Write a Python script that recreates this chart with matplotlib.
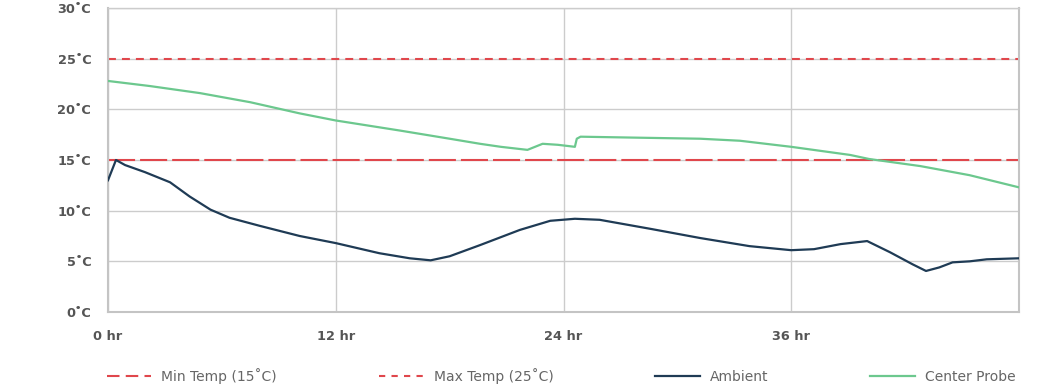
import matplotlib.pyplot as plt
from matplotlib.lines import Line2D

# hours / temperature readings
amb_hr = [0, 0.42, 0.9, 1.95, 3.27, 4.3, 5.4, 6.4, 8.0, 10.1, 12.0, 14.3, 15.9, 17.0,
          18.0, 19.6, 21.7, 23.3, 24.6, 25.9, 28.6, 31.2, 33.8, 36.0, 37.2, 38.6,
          40.0, 41.2, 42.4, 43.1, 43.8, 44.5, 45.4, 46.3, 48.0]
amb_temp = [13.0, 15.0, 14.5, 13.8, 12.8, 11.4, 10.1, 9.3, 8.5, 7.5, 6.8, 5.8, 5.3, 5.1,
            5.5, 6.6, 8.1, 9.0, 9.2, 9.1, 8.2, 7.3, 6.5, 6.1, 6.2, 6.7,
            7.0, 5.9, 4.7, 4.05, 4.4, 4.9, 5.0, 5.2, 5.3]

probe_hr = [0, 2.2, 4.85, 7.5, 10.1, 12.0, 15.4, 18.0, 19.6, 20.7, 22.1, 22.9, 23.7,
            24.6, 24.7, 24.9, 28.0, 31.2, 33.3, 36.0, 39.1, 40.1, 42.8, 45.4, 48.0]
probe_temp = [22.8, 22.3, 21.6, 20.7, 19.6, 18.9, 17.9, 17.1, 16.6, 16.3, 16.0, 16.6, 16.5,
              16.3, 17.1, 17.3, 17.2, 17.1, 16.9, 16.3, 15.5, 15.1, 14.4, 13.5, 12.3]

min_temp = 15
max_temp = 25
x_ticks = [0, 12, 24, 36, 48]
x_labels = ['0 hr', '12 hr', '24 hr', '36 hr', '']
y_ticks = [0, 5, 10, 15, 20, 25, 30]

red = '#e0474c'
navy = '#1f3b55'
green = '#6cc88e'
grid = '#cccccc'

plt.rcParams['font.family'] = ['DejaVu Sans']

fig = plt.figure(figsize=(10.62, 3.86), dpi=100)
ax = fig.add_axes([108 / 1062, 1 - 312 / 386, 911 / 1062, 304 / 386])

ax.axhline(min_temp, color=red, lw=1.5, linestyle=(0, (13, 2.4)), zorder=2)
ax.axhline(max_temp, color=red, lw=1.5, linestyle=(0, (3.8, 2.9)), zorder=2)
ax.plot(amb_hr, amb_temp, color=navy, lw=1.6, zorder=3, solid_joinstyle='round')
ax.plot(probe_hr, probe_temp, color=green, lw=1.6, zorder=3, solid_joinstyle='round')

ax.set_xlim(0, 48)
ax.set_ylim(0, 30)
ax.set_xticks(x_ticks)
ax.set_xticklabels(x_labels)
ax.set_yticks(y_ticks)
ax.set_yticklabels([f'{t}˚C' for t in y_ticks])
ax.grid(True, color=grid, lw=1.0, zorder=0)
ax.set_axisbelow(True)
for s in ['left', 'right', 'bottom']:
    ax.spines[s].set_color('#c4c4c4')
    ax.spines[s].set_linewidth(1.5)
ax.spines['top'].set_color(grid)
ax.spines['top'].set_linewidth(1.0)
ax.tick_params(length=0, labelsize=9.3, labelcolor='#555555')
ax.tick_params(axis='y', pad=12)
ax.tick_params(axis='x', pad=13)
for lab in ax.get_xticklabels() + ax.get_yticklabels():
    lab.set_fontweight('bold')

handles = [
    Line2D([], [], color=red, lw=1.5, linestyle=(0, (6, 3))),
    Line2D([], [], color=red, lw=1.5, linestyle=(0, (3, 3))),
    Line2D([], [], color=navy, lw=1.6),
    Line2D([], [], color=green, lw=1.6),
]
labels = ['Min Temp (15˚C)', 'Max Temp (25˚C)', 'Ambient', 'Center Probe']
leg = fig.legend(handles, labels, loc='center left', bbox_to_anchor=(100 / 1062, 1 - 376 / 386),
                 ncol=4, frameon=False, fontsize=10, handlelength=3.2, handletextpad=0.72,
                 columnspacing=7.35, borderpad=0)
for t in leg.get_texts():
    t.set_color('#666666')

fig.savefig('out.png', dpi=100)
